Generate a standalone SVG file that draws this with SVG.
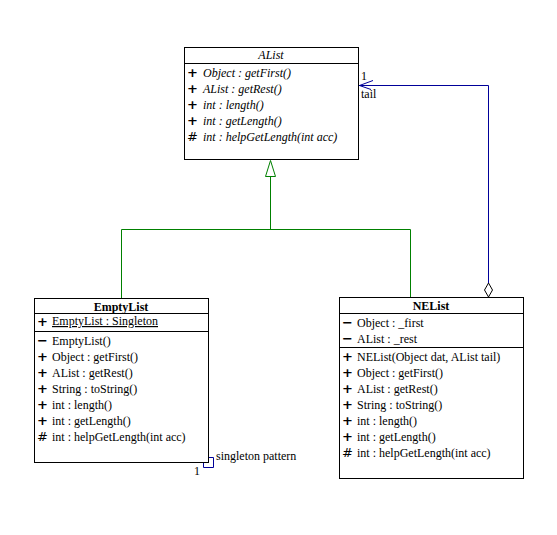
<svg xmlns="http://www.w3.org/2000/svg" width="557" height="535" viewBox="0 0 557 535">
<style>
.box{fill:#fff;stroke:#000;stroke-width:1}
.sep{stroke:#000;stroke-width:1}
text{font-family:"Liberation Serif","Times New Roman",serif;font-size:12px;fill:#000}
.title{font-weight:bold;text-anchor:middle}
.it{font-style:italic}
.vis{font-family:"DejaVu Sans","Liberation Sans",sans-serif;font-weight:bold;font-size:13px}
.hash{font-family:"DejaVu Sans","Liberation Sans",sans-serif;font-size:13px}
.gen{fill:none;stroke:#008000;stroke-width:1}
.asc{fill:none;stroke:#000099;stroke-width:1}
</style>
<rect width="557" height="535" fill="#fff"/>
<g id="connectors">
  <polyline class="gen" points="121.5,298 121.5,229.5 410.5,229.5 410.5,297"/>
  <line class="gen" x1="270.5" y1="229.5" x2="270.5" y2="176"/>
  <polygon class="gen" points="270.5,160.5 265.5,176.5 275.5,176.5" fill="#fff"/>
  <polyline class="asc" points="488.5,283 488.5,85.5 359,85.5"/>
  <polygon points="488.5,283 492.5,290 488.5,297 484.5,290" fill="#fff" stroke="#000" stroke-width="1"/>
  <polyline class="asc" points="373,80.5 359.5,85.5 371,89.5"/>
  <text x="361" y="80">1</text>
  <text x="361" y="98">tail</text>
  <polyline class="asc" points="203.5,462 203.5,467.5 213.5,467.5 213.5,457.5 208,457.5"/>
  <text x="194" y="475">1</text>
  <text x="216" y="460">singleton pattern</text>
</g>
<g id="AList">
  <rect class="box" x="184.5" y="47.5" width="174" height="112"/>
  <line class="sep" x1="184.5" y1="63.5" x2="358.5" y2="63.5"/>
  <text class="title it" style="font-weight:normal" x="271" y="59">AList</text>
  <text class="vis" x="187" y="77">+</text><text class="it" x="203" y="77">Object : getFirst()</text>
  <text class="vis" x="187" y="93">+</text><text class="it" x="203" y="93">AList : getRest()</text>
  <text class="vis" x="187" y="109">+</text><text class="it" x="203" y="109">int : length()</text>
  <text class="vis" x="187" y="125">+</text><text class="it" x="203" y="125">int : getLength()</text>
  <text class="hash" x="187" y="141">#</text><text class="it" x="203" y="141">int : helpGetLength(int acc)</text>
</g>
<g id="EmptyList">
  <rect class="box" x="34.5" y="298.5" width="174" height="164"/>
  <line class="sep" x1="34.5" y1="313.5" x2="208.5" y2="313.5"/>
  <line class="sep" x1="34.5" y1="331.5" x2="208.5" y2="331.5"/>
  <text class="title" x="121" y="311">EmptyList</text>
  <text class="vis" x="37" y="326">+</text><text x="52" y="325" text-decoration="underline">EmptyList : Singleton</text>
  <text class="vis" x="37" y="345">−</text><text x="52" y="345">EmptyList()</text>
  <text class="vis" x="37" y="361">+</text><text x="52" y="361">Object : getFirst()</text>
  <text class="vis" x="37" y="377">+</text><text x="52" y="377">AList : getRest()</text>
  <text class="vis" x="37" y="393">+</text><text x="52" y="393">String : toString()</text>
  <text class="vis" x="37" y="409">+</text><text x="52" y="409">int : length()</text>
  <text class="vis" x="37" y="425">+</text><text x="52" y="425">int : getLength()</text>
  <text class="hash" x="37" y="441">#</text><text x="52" y="441">int : helpGetLength(int acc)</text>
</g>
<g id="NEList">
  <rect class="box" x="339.5" y="297.5" width="184" height="181"/>
  <line class="sep" x1="339.5" y1="313.5" x2="523.5" y2="313.5"/>
  <line class="sep" x1="339.5" y1="347.5" x2="523.5" y2="347.5"/>
  <text class="title" x="431" y="310">NEList</text>
  <text class="vis" x="342" y="327">−</text><text x="357" y="327">Object : _first</text>
  <text class="vis" x="342" y="343">−</text><text x="357" y="343">AList : _rest</text>
  <text class="vis" x="342" y="361">+</text><text x="357" y="361">NEList(Object dat, AList tail)</text>
  <text class="vis" x="342" y="377">+</text><text x="357" y="377">Object : getFirst()</text>
  <text class="vis" x="342" y="393">+</text><text x="357" y="393">AList : getRest()</text>
  <text class="vis" x="342" y="409">+</text><text x="357" y="409">String : toString()</text>
  <text class="vis" x="342" y="425">+</text><text x="357" y="425">int : length()</text>
  <text class="vis" x="342" y="441">+</text><text x="357" y="441">int : getLength()</text>
  <text class="hash" x="342" y="457">#</text><text x="357" y="457">int : helpGetLength(int acc)</text>
</g>
</svg>
